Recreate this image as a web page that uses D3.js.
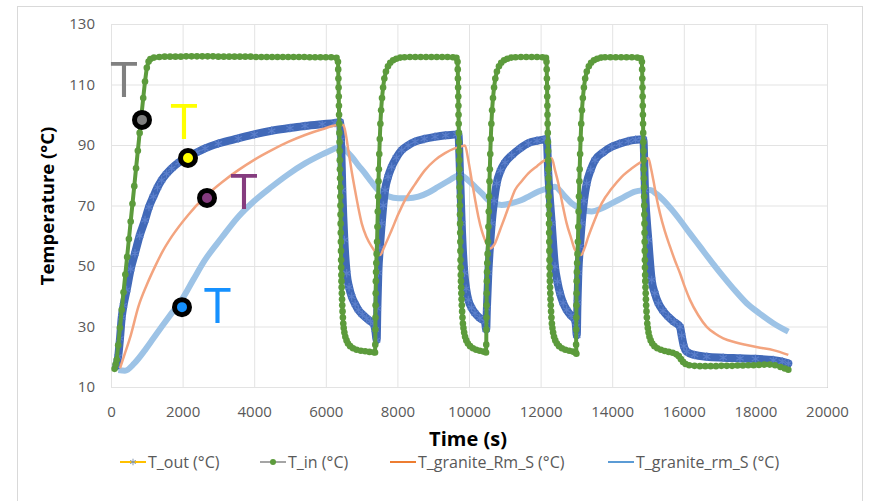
<!DOCTYPE html>
<html>
<head>
<meta charset="utf-8">
<script src="https://cdn.jsdelivr.net/npm/d3@7"></script>
<style>
  body { margin: 0; background: #fff; }
  svg text { font-family: "Open Sans", "DejaVu Sans", sans-serif; }
</style>
</head>
<body>
<svg id="chart" width="869" height="501"></svg>
<script>
// tick values
var xTicks = [0, 2000, 4000, 6000, 8000, 10000, 12000, 14000, 16000, 18000, 20000];
var yTicks = [10, 30, 50, 70, 90, 110, 130];

// series names (legend order)
var seriesNames = ['T_out (°C)', 'T_in (°C)', 'T_granite_Rm_S (°C)', 'T_granite_rm_S (°C)'];

// T_in : [time s, temp °C]
var tIn = [
  [100,16],[130,17.5],[160,19],[200,23.8],[250,29.6],[300,35.5],[350,41.3],[400,47.2],[450,53],[500,58.9],
  [550,64.7],[600,70.6],[650,76.4],[700,82.3],[750,88.1],[800,94],[850,99.8],[900,105.5],[950,111],[1000,115.5],
  [1050,117.6],[1100,118.4],[1200,118.9],[1350,119.1],[1500,119.2],[1650,119.2],[1800,119.2],[1950,119.2],[2100,119.3],
  [2250,119.3],[2400,119.3],[2550,119.3],[2700,119.3],[2850,119.3],[3000,119.2],[3150,119.2],[3300,119.2],[3450,119.2],
  [3600,119.2],[3750,119.2],[3900,119.2],[4050,119.1],[4200,119.1],[4350,119.1],[4500,119.1],[4650,119.1],[4800,119.1],
  [4950,119.1],[5100,119.1],[5250,119.1],[5400,119.1],[5550,119],[5700,119],[5850,119],[6000,119],[6150,119],[6300,118.8],
  [6340,117.5],[6347,115],[6352,112],[6357,109],[6362,106],[6367,103],[6371,100],[6375,97],[6379,94],[6383,91],
  [6387,88],[6391,85],[6395,82],[6399,79],[6403,76],[6406,73],[6409,70],[6412,67],[6415,64],[6418,61],[6421,58],
  [6424,55],[6427,52],[6430,49.5],[6434,47],[6438,45],[6443,43],[6448,41],[6454,39],[6460,37],[6468,35],[6477,33],
  [6488,31],[6500,29.5],[6520,28],[6545,26.6],[6580,25.4],[6620,24.4],[6680,23.5],[6760,22.8],[6860,22.3],[6980,22],
  [7100,21.8],[7220,21.6],[7340,21.5],[7375,21.4],
  [7382,24],[7385,29],[7388,33],[7391,37],[7394,41],[7398,45],[7403,48],[7410,51],[7420,54],[7432,58],[7442,63],
  [7452,68],[7462,73],[7472,78],[7482,82],[7494,87],[7508,92],[7525,97],[7545,101.5],[7570,105.5],[7600,109],
  [7635,112],[7680,114.3],[7737,116],[7800,117.2],[7880,118],[7970,118.5],[8080,118.9],[8200,119],[8350,119.1],
  [8500,119.1],[8650,119.1],[8800,119.1],[8950,119.1],[9100,119.1],[9250,119.1],[9400,119.1],[9550,119],[9650,118.8],
  [9680,117.5],[9686,115],[9691,112],[9696,109],[9700,106],[9704,103],[9708,100],[9712,97],[9716,94],[9720,91],
  [9724,88],[9728,85],[9732,82],[9736,79],[9739,76],[9742,73],[9745,70],[9748,67],[9751,64],[9754,61],[9757,58],
  [9760,55],[9763,52],[9766,49.5],[9770,47],[9775,45],[9780,43],[9786,41],[9792,39],[9799,37],[9808,35],[9818,33],
  [9830,31],[9845,29.5],[9865,28],[9890,26.6],[9925,25.4],[9970,24.4],[10030,23.5],[10110,22.8],[10200,22.3],
  [10300,22],[10400,21.7],[10475,21.4],
  [10482,24],[10485,29],[10488,33],[10491,37],[10494,41],[10498,45],[10503,48],[10510,51],[10520,54],[10532,58],
  [10542,63],[10552,68],[10562,73],[10572,78],[10582,82],[10594,87],[10608,92],[10625,97],[10645,101.5],[10670,105.5],
  [10700,109],[10735,112],[10780,114.3],[10837,116],[10900,117.2],[10980,118],[11070,118.5],[11180,118.9],[11300,119],
  [11450,119.1],[11600,119.1],[11750,119.1],[11900,119.1],[12050,119],[12150,118.8],
  [12165,117.5],[12171,115],[12176,112],[12181,109],[12185,106],[12189,103],[12193,100],[12197,97],[12201,94],
  [12205,91],[12209,88],[12213,85],[12217,82],[12221,79],[12224,76],[12227,73],[12230,70],[12233,67],[12236,64],
  [12239,61],[12242,58],[12245,55],[12248,52],[12251,49.5],[12255,47],[12260,45],[12265,43],[12271,41],[12277,39],
  [12284,37],[12293,35],[12303,33],[12315,31],[12330,29.5],[12350,28],[12375,26.6],[12410,25.4],[12455,24.4],
  [12515,23.5],[12595,22.8],[12690,22.3],[12800,22],[12900,21.7],[12980,21.3],[13000,21],
  [12992,24],[12995,29],[12998,33],[13001,37],[13004,41],[13008,45],[13013,48],[13020,51],[13030,54],[13042,58],
  [13052,63],[13062,68],[13072,73],[13082,78],[13092,82],[13104,87],[13118,92],[13135,97],[13155,101.5],[13180,105.5],
  [13210,109],[13245,112],[13290,114.3],[13347,116],[13410,117.2],[13490,118],[13580,118.5],[13690,118.9],[13800,119],
  [13950,119],[14100,119],[14250,119],[14400,119],[14550,119],[14700,118.9],[14800,118.7],
  [14830,117.5],[14836,115],[14841,112],[14846,109],[14850,106],[14854,103],[14858,100],[14862,97],[14866,94],
  [14870,91],[14874,88],[14878,85],[14882,82],[14886,79],[14889,76],[14892,73],[14895,70],[14898,67],[14901,64],
  [14904,61],[14907,58],[14910,55],[14913,52],[14916,49.5],[14920,47],[14925,45],[14930,43],[14936,41],[14942,39],
  [14949,37],[14958,35],[14968,33],[14980,31],[14995,29.5],[15015,28],[15040,26.6],[15075,25.4],[15120,24.4],
  [15180,23.5],[15260,22.8],[15360,22.3],[15470,21.9],[15580,21.6],[15690,21.3],[15790,20.8],[15860,20.2],[15920,19.2],
  [15980,18.3],[16050,17.6],[16150,17.2],[16300,17],[16450,16.9],[16600,16.9],[16750,16.9],[16900,16.9],[17050,17],
  [17200,17],[17350,17],[17500,17.1],[17650,17.1],[17800,17.2],[17950,17.2],[18100,17.3],[18250,17.4],[18400,17.4],
  [18550,17.2],[18700,16.6],[18820,16.1],[18920,15.7]
];

// T_out
var tOut = [
  [150,17],[200,20],[251,26],[300,33],[350,37],[438,42.1],[550,49],[670,54.2],[800,60],[950,65.2],[1060,69.5],
  [1182,72.9],[1300,76],[1415,78.4],[1550,80.5],[1695,82.3],[1900,84.3],[2160,86.1],[2400,87.6],[2626,88.9],
  [3000,90.5],[3556,92.2],[4000,93.5],[4488,94.7],[5000,95.6],[5419,96.3],[5900,96.9],[6257,97.3],[6397,97.6],
  [6425,91.7],[6462,75.1],[6518,58.6],[6583,47.6],[6650,43],[6723,39.9],[6820,37.4],[6909,35.5],[7020,34],
  [7142,32.7],[7250,31.7],[7328,31],[7380,29],[7421,25.5],
  [7440,36],[7467,47.7],[7510,56],[7561,64.1],[7605,70],[7654,75.1],[7740,79.5],[7840,82.8],[7970,85.8],[8120,88.3],
  [8300,89.9],[8492,91.1],[8750,92],[9050,92.7],[9350,93.2],[9656,93.5],[9702,93.8],
  [9749,80.6],[9795,64.1],[9870,47.7],[9920,42.5],[9981,38.8],[10070,36.2],[10168,34.4],[10300,32.8],[10447,31.6],
  [10480,29],
  [10500,36],[10540,47.7],[10585,56.5],[10633,64.1],[10700,71.5],[10773,77.3],[10880,81.5],[11006,84.2],[11192,86.6],
  [11420,88.8],[11657,90.6],[11900,91.4],[12123,91.9],[12170,92],
  [12215,80.6],[12310,64.1],[12402,49.8],[12470,44.8],[12542,41],[12630,37.8],[12728,35.5],[12850,33.6],[12961,32.2],
  [12990,30],[13010,27],
  [13030,38],[13054,47.7],[13100,56.5],[13147,64.1],[13210,71.5],[13287,77.3],[13400,81.8],[13520,85],[13750,87.6],
  [13986,89.4],[14200,90.4],[14450,91.3],[14650,91.7],[14823,91.9],[14870,91.9],
  [14916,75.1],[15009,58.6],[15103,45.4],[15190,41],[15289,37.7],[15420,35.2],[15568,33.2],[15730,31.5],[15894,29.9],
  [15940,27],[16000,23.5],[16080,21.7],[16300,20.6],[16640,20],[17100,19.7],[17570,19.5],[18000,19.3],[18500,18.9],
  [18750,18.4],[18920,17.8]
];

// T_granite_Rm_S
var tRm = [
  [251,16.2],[400,21.5],[550,27],[763,36.5],[1000,43.8],[1229,49.8],[1450,55],[1695,59.7],[2150,66.8],[2626,72.9],
  [3100,77.7],[3556,81.7],[4000,85.1],[4488,88.3],[4950,91],[5419,93.3],[5900,95.2],[6349,96.6],[6490,96.6],
  [6560,93.5],[6629,88.3],[6720,81.5],[6816,75.1],[6910,69.2],[7003,64.1],[7140,59.5],[7282,56.4],[7400,54.4],
  [7514,53.6],[7640,56.5],[7840,61.9],[8020,67],[8212,71.8],[8490,77],[8771,81.7],[9050,85],[9330,87.3],[9600,88.9],
  [9749,89.4],[9888,89.8],[9980,85],[10075,78.4],[10170,72],[10261,66.3],[10360,61.5],[10447,58.6],[10587,55.8],
  [10726,57.5],[10870,62],[11006,66.3],[11150,71],[11285,75.1],[11470,78],[11657,80.6],[11900,83],[12123,85],
  [12310,85.6],[12400,81.8],[12496,77.3],[12610,70.5],[12728,64.1],[12850,59.3],[12961,55.3],[13129,53.6],[13230,56],
  [13333,59.7],[13520,65.5],[13706,70.7],[13980,75.5],[14265,79.5],[14550,82.3],[14823,84.5],[15009,85.6],[15080,82.5],
  [15149,78.4],[15240,72.5],[15335,67.4],[15470,61.5],[15615,56.4],[15750,51.9],[15894,47.6],[16030,43],[16173,38.8],
  [16400,33.8],[16640,29.9],[16870,27.7],[17103,26.1],[17430,24.8],[17757,23.9],[18130,23],[18500,22.2],[18920,20.6]
];

// T_granite_rm_S
var trm = [
  [205,15.6],[391,15.4],[650,17.8],[950,22.2],[1180,26],[1415,29.9],[1700,34.5],[1974,38.8],[2300,45.5],[2626,52],
  [3100,59.5],[3556,66.3],[4000,71.5],[4488,76.2],[4950,80.3],[5419,83.9],[5900,86.9],[6349,89.4],[6397,89.7],
  [6550,88.3],[6723,86.1],[6910,83.3],[7095,80.6],[7280,77.7],[7467,75.1],[7750,73],[8026,72.4],[8300,72.4],
  [8585,72.9],[8870,74.3],[9143,76.2],[9450,78.3],[9749,80.1],[9960,78.5],[10168,76.2],[10360,74],[10540,71.8],
  [10720,70.7],[10913,70.2],[11200,70.8],[11472,71.8],[11700,73.2],[11937,74.6],[12170,75.6],[12402,76.2],[12640,73.5],
  [12868,70.7],[13150,68.8],[13427,68],[13700,69],[13986,70.7],[14300,72.6],[14637,74.6],[14850,75],[15056,75.1],
  [15240,73.8],[15428,71.8],[15660,68.7],[15894,65.2],[16170,60.8],[16453,56.4],[16780,51.3],[17103,46.5],
  [17430,41.9],[17757,37.7],[18130,34.2],[18500,31.1],[18920,28.3]
];

// annotation "T" labels and dots, placed in data coordinates
var noteLetters = [[363,105.9,'#808080'],[2039,92,'#ffff00'],[3715,68.8,'#853c7f'],[2975,31.2,'#1591ff']];
var noteDots = [[866,98.3,'#7f7f7f'],[2151,85.7,'#ffff00'],[2682,72.5,'#853c7f'],[1983,36.4,'#1591ff']];

var svg = d3.select('#chart');

// outer chart frame
svg.append('rect')
  .attr('x', 17.5).attr('y', 6.5).attr('width', 845).attr('height', 510)
  .attr('fill', '#fff').attr('stroke', '#d9d9d9');

var x = d3.scaleLinear().domain([0, 20000]).range([111, 827]);
var y = d3.scaleLinear().domain([10, 130]).range([387, 24]);

// axes + gridlines
var gx = svg.append('g')
  .attr('transform', 'translate(0,387)')
  .call(d3.axisBottom(x).tickValues(xTicks).tickSize(-363).tickPadding(19).tickFormat(d3.format('d')));
gx.select('.domain').attr('stroke', '#c9c9c9');
gx.selectAll('.tick line').attr('stroke', '#e3e3e3');
gx.selectAll('.tick text').attr('fill', '#595959').style('font-size', '15px');

var gy = svg.append('g')
  .attr('transform', 'translate(111,0)')
  .call(d3.axisLeft(y).tickValues(yTicks).tickSize(-716).tickPadding(16));
gy.select('.domain').remove();
gy.selectAll('.tick line').attr('stroke', '#e3e3e3');
gy.selectAll('.tick text').attr('fill', '#595959').style('font-size', '15px');

// axis titles
svg.append('text')
  .attr('x', 468).attr('y', 446)
  .attr('text-anchor', 'middle')
  .style('font-size', '20px').style('font-weight', 'bold').attr('fill', '#000')
  .text('Time (s)');
svg.append('text')
  .attr('transform', 'translate(54,206) rotate(-90)')
  .attr('text-anchor', 'middle')
  .style('font-size', '18.5px').style('font-weight', 'bold').attr('fill', '#000')
  .text('Temperature (°C)');

var smooth = d3.line().x(function (d) { return x(d[0]); }).y(function (d) { return y(d[1]); })
  .curve(d3.curveMonotoneX);
var straight = d3.line().x(function (d) { return x(d[0]); }).y(function (d) { return y(d[1]); });

var plot = svg.append('g');

// T_granite_rm_S - light blue thick line
plot.append('path').datum(trm).attr('d', smooth)
  .attr('fill', 'none').attr('stroke', '#9dc3e6').attr('stroke-width', 6).attr('stroke-linejoin', 'round');

// T_out - dense asterisk markers make a thick blue band
plot.append('path').datum(tOut).attr('d', smooth)
  .attr('fill', 'none').attr('stroke', '#4169b8').attr('stroke-width', 8)
  .attr('stroke-linejoin', 'round').attr('stroke-linecap', 'round');
plot.selectAll('.out-mk').data(tOut).enter().append('path')
  .attr('class', 'out-mk')
  .attr('transform', function (d) { return 'translate(' + x(d[0]) + ',' + y(d[1]) + ')'; })
  .attr('d', d3.symbol().type(d3.symbolAsterisk).size(50))
  .attr('fill', 'none').attr('stroke', '#5b7fcb').attr('stroke-width', 1.2);

// T_granite_Rm_S - orange line
plot.append('path').datum(tRm).attr('d', smooth)
  .attr('fill', 'none').attr('stroke', '#f3a47f').attr('stroke-width', 2.5).attr('stroke-linejoin', 'round');

// T_in - gray line, dense green dots (a narrow band under the dots fills the gaps)
plot.append('path').datum(tIn).attr('d', straight)
  .attr('fill', 'none').attr('stroke', '#a5a5a5').attr('stroke-width', 1.2);
plot.append('path').datum(tIn).attr('d', straight)
  .attr('fill', 'none').attr('stroke', '#5c9b3c').attr('stroke-width', 4)
  .attr('stroke-linejoin', 'round').attr('stroke-linecap', 'round');
plot.selectAll('.in-mk').data(tIn).enter().append('circle')
  .attr('class', 'in-mk')
  .attr('cx', function (d) { return x(d[0]); })
  .attr('cy', function (d) { return y(d[1]); })
  .attr('r', 3.3)
  .attr('fill', '#5c9b3c');

// annotations
svg.selectAll('.note-t').data(noteLetters).enter().append('text')
  .attr('class', 'note-t')
  .attr('x', function (d) { return x(d[0]); })
  .attr('y', function (d) { return y(d[1]); })
  .attr('text-anchor', 'middle')
  .style('font-size', '49px')
  .attr('fill', function (d) { return d[2]; })
  .text('T');
svg.selectAll('.note-dot').data(noteDots).enter().append('circle')
  .attr('class', 'note-dot')
  .attr('cx', function (d) { return x(d[0]); })
  .attr('cy', function (d) { return y(d[1]); })
  .attr('r', 7.5)
  .attr('fill', function (d) { return d[2]; })
  .attr('stroke', '#000').attr('stroke-width', 5);

// legend
var legendX = [120, 260, 390, 608];
var legendLine = ['#ffc000', '#a5a5a5', '#ed7d31', '#5b9bd5'];
var lg = svg.append('g').attr('transform', 'translate(0,462)');
seriesNames.forEach(function (name, i) {
  var g = lg.append('g').attr('transform', 'translate(' + legendX[i] + ',0)');
  g.append('line').attr('x1', 0).attr('x2', 26).attr('y1', 0).attr('y2', 0)
    .attr('stroke', legendLine[i]).attr('stroke-width', 2);
  if (i === 0) {
    g.append('path').attr('transform', 'translate(13,0)')
      .attr('d', d3.symbol().type(d3.symbolAsterisk).size(30))
      .attr('fill', 'none').attr('stroke', '#8497b0').attr('stroke-width', 1);
  }
  if (i === 1) {
    g.append('circle').attr('cx', 13).attr('cy', 0).attr('r', 3).attr('fill', '#5c9b3c');
  }
  g.append('text').attr('x', 28).attr('y', 0).attr('dy', '0.35em')
    .style('font-size', '16px').attr('fill', '#595959')
    .text(name);
});
</script>
</body>
</html>
